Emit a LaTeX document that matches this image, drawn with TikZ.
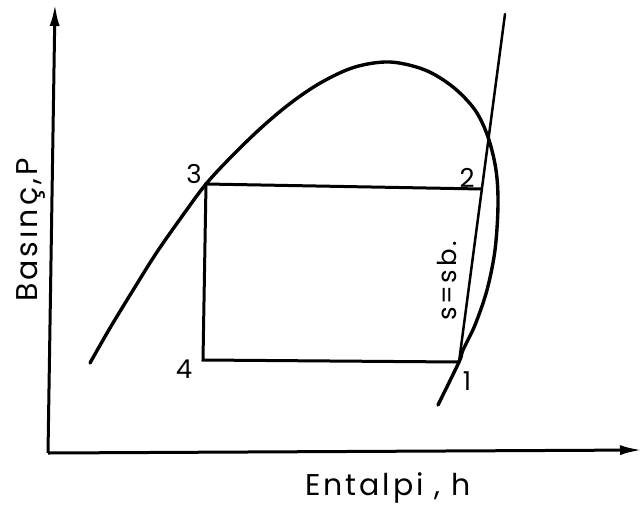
\documentclass[tikz,border=0pt]{standalone}
\usepackage{fontspec}
\setmainfont{Poppins}[LetterSpace=10]
\usetikzlibrary{arrows.meta}
\begin{document}
\begin{tikzpicture}[x=1pt,y=-1pt,
  dome/.style={line width=3.4pt, line cap=round, line join=round},
  axis/.style={line width=3pt},
  cyc/.style={line width=3pt, line join=miter},
  isen/.style={line width=2.5pt, line cap=round},
  tip/.style={-{Latex[length=22pt,width=10pt]}},
  num/.style={font=\fontsize{26}{26}\selectfont, inner sep=0pt},
  axlbl/.style={font=\fontsize{30}{30}\selectfont, inner sep=0pt}]
\useasboundingbox (0,0) rectangle (642,504);
% state points
\coordinate (p1) at (459,362);
\coordinate (p2) at (482,189);
\coordinate (p3) at (206,184);
\coordinate (p4) at (203,360);
\coordinate (stop) at (505,14);
% axes
\coordinate (O) at (48,453);
\coordinate (ytop) at (55,4);
\coordinate (xend) at (642,450);
\draw[axis,tip] (O) -- (ytop);
\draw[axis,tip] (O) -- (xend);
% saturation dome
\draw[dome] plot[smooth, tension=0.55] coordinates {
 (90,363) (110,328) (135,287) (157,252) (183,215) (206,184) (232,156)
 (262,127) (292,102) (322,82) (355,67) (390,62) (425,70) (453,87) (475,110) (488,137)
 (496,170) (498,205) (495,250) (487,290) (475,325) (463,350) (459,362) (438,405)};
% cycle
\draw[cyc] (p2) -- (p3) -- (p4) -- (p1);
\draw[isen] (p1) -- (stop);
% labels
\node[num] (l3) at (194,174) {3};
\node[num] (l2) at (467,178) {2};
\node[num] (l4) at (184,369) {4};
\node[num] (l1) at (467,381) {1};
\node[font=\fontsize{26}{26}\selectfont, inner sep=0pt, rotate=90, anchor=base] (ls) at (456,281) {s=sb.};
\node[axlbl, rotate=90, anchor=base] (ly) at (37,230) {Basınç,P};
\node[axlbl, anchor=base] (lx) at (388,495) {Entalpi , h};
\end{tikzpicture}
\end{document}
